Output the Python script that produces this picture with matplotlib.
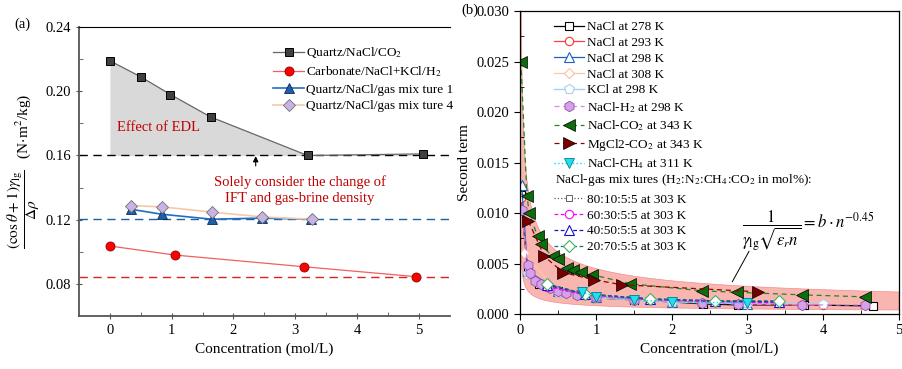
import numpy as np
import matplotlib.pyplot as plt

plt.rcParams['font.family'] = ['Liberation Serif', 'DejaVu Serif']
plt.rcParams['mathtext.fontset'] = 'stix'

# ---- panel (a) data
conc_co2 = [0, 0.5, 0.98, 1.63, 3.2, 5.07]
val_co2 = [0.219, 0.209, 0.198, 0.184, 0.160, 0.161]
conc_h2 = [0, 1.05, 3.14, 4.96]
val_h2 = [0.1036, 0.098, 0.0907, 0.0845]
conc_mix1 = [0.34, 0.84, 1.65, 2.46, 3.26]
val_mix1 = [0.1265, 0.1234, 0.1203, 0.121, 0.1203]
conc_mix4 = [0.34, 0.84, 1.66, 2.47, 3.27]
val_mix4 = [0.1288, 0.128, 0.1247, 0.1217, 0.1203]
ref_co2 = 0.160
ref_mix = 0.1203
ref_h2 = 0.0845

# ---- panel (b) data
n278 = [0.01, 0.1, 0.25, 0.5, 1.0, 1.5, 2.0, 2.41, 2.87, 3.75, 4.65]
s278 = [0.0118, 0.0042, 0.0030, 0.0023, 0.0016, 0.0014, 0.0012, 0.0010, 0.0009, 0.0009, 0.0008]
n293 = [0.01, 0.1, 0.5, 1.0, 2.0, 3.0, 4.0]
s293 = [0.0115, 0.0040, 0.0022, 0.0016, 0.0012, 0.0010, 0.0009]
n298 = [0.02, 0.1, 0.5, 1.0, 2.0, 3.0]
s298 = [0.0128, 0.0043, 0.0023, 0.0017, 0.0012, 0.0010]
n308 = [0.05, 0.5, 1.0, 2.0, 3.0]
s308 = [0.0060, 0.0022, 0.0016, 0.0012, 0.0010]
n_kcl = [0.1, 0.5, 1.0, 1.5, 2.0, 3.0, 4.0]
s_kcl = [0.0040, 0.0022, 0.0017, 0.0014, 0.0012, 0.0011, 0.0010]
n_h2 = [0.02, 0.1, 0.13, 0.2, 0.28, 0.4, 0.5, 0.6, 0.75, 1.0, 1.5, 2.4, 2.87, 3.72, 4.55]
s_h2 = [0.0103, 0.0049, 0.0041, 0.0033, 0.0030, 0.0026, 0.0023, 0.0021, 0.0019, 0.0017,
        0.0014, 0.0011, 0.0010, 0.0009, 0.0009]
n_co2 = [0.01, 0.09, 0.12, 0.23, 0.27, 0.43, 0.50, 0.62, 0.70, 0.80, 0.95, 1.45, 2.40, 2.86, 3.72, 4.55]
s_co2 = [0.025, 0.0117, 0.0100, 0.0077, 0.0069, 0.0057, 0.0054, 0.0046, 0.0044, 0.0042,
         0.0039, 0.0030, 0.0023, 0.00215, 0.0019, 0.0017]
n_mg = [0.11, 0.32, 0.57, 0.97, 1.34, 3.14]
s_mg = [0.0092, 0.0057, 0.0041, 0.0034, 0.0029, 0.0022]
n_ch4 = [0.81, 1.0, 1.5, 2.0, 3.0]
s_ch4 = [0.0022, 0.0017, 0.0014, 0.0012, 0.0011]
n_mixes = [0.35, 0.85, 1.72, 2.57, 3.42]
s_80 = [0.0028, 0.0019, 0.0014, 0.0012, 0.0012]
s_60 = [0.0027, 0.0019, 0.0014, 0.0012, 0.0011]
s_40 = [0.0029, 0.0020, 0.0015, 0.0013, 0.0012]
s_20 = [0.0030, 0.0020, 0.0015, 0.0013, 0.0013]
# band of the fitted curve b*n^-0.45
b_low, b_high, expo = 0.00082, 0.0045, -0.45

fig = plt.figure(figsize=(9.03, 3.69), dpi=100)
ax1 = fig.add_axes([0.0875, 0.1436, 0.4105, 0.783])
ax2 = fig.add_axes([0.576, 0.149, 0.4196, 0.821])

# %% panel a
ax1.fill_between(conc_co2, val_co2, ref_co2, color='#d9d9d9', lw=0)
ax1.axhline(ref_co2, color='k', ls=(0, (6, 4)), lw=1)
ax1.axhline(ref_mix, color='#1f5fa8', ls=(0, (6, 4)), lw=1)
ax1.axhline(ref_h2, color='#e02020', ls=(0, (6, 4)), lw=1)
ax1.plot(conc_co2, val_co2, color='#666666', lw=0.9, marker='s', ms=6,
         mfc='#404040', mec='k', mew=0.7, label='Quartz/NaCl/CO$_2$')
ax1.plot(conc_h2, val_h2, color='#f06060', lw=0.9, marker='o', ms=6.5,
         mfc='#ff0000', mec='#900000', mew=0.6, label='Carbonate/NaCl+KCl/H$_2$')
ax1.plot(conc_mix1, val_mix1, color='#1f6fc0', lw=1.2, marker='^', ms=7,
         mfc='#1f5fa8', mec='#0a2a60', mew=0.6, label='Quartz/NaCl/gas mix ture 1')
ax1.plot(conc_mix4, val_mix4, color='#f5c8a8', lw=1.2, marker='D', ms=6.5,
         mfc='#c8b4e4', mec='#707070', mew=0.6, label='Quartz/NaCl/gas mix ture 4')
ax1.set_xlim(-0.5, 5.5)
ax1.set_ylim(0.06, 0.24)
ax1.set_xticks(range(6))
ax1.set_xticks(np.arange(0.5, 5.5, 1), minor=True)
ax1.set_yticks([0.08, 0.12, 0.16, 0.20, 0.24])
ax1.set_yticks([0.10, 0.14, 0.18, 0.22], minor=True)
ax1.set_yticklabels(['0.08', '0.12', '0.16', '0.20', '0.24'])
ax1.tick_params(which='major', direction='inout', length=5, labelsize=10.5, color='#555555')
ax1.tick_params(which='minor', direction='in', length=3, color='#555555')
ax1.spines['right'].set_visible(False)
ax1.spines['top'].set_linewidth(0.8)
for s in ['left', 'bottom']:
    ax1.spines[s].set_color('#555555')
    ax1.spines[s].set_linewidth(1.3)
ax1.set_xlabel('Concentration (mol/L)', fontsize=11)
ax1.set_ylabel(r'$\dfrac{(\cos\theta+1)\gamma_{\mathrm{lg}}}{\Delta\rho}$   (N$\cdot$m$^2$/kg)',
               fontsize=11, labelpad=2)
ax1.text(0.11, 0.1775, 'Effect of EDL', color='#c00000', fontsize=10.5, va='center')
ax1.text(3.07, 0.1383, 'Solely consider the change of\nIFT and gas-brine density',
         color='#c00000', fontsize=10.5, ha='center', va='center', linespacing=1.25)
ax1.annotate('', xy=(2.36, 0.1596), xytext=(2.36, 0.1535),
             arrowprops=dict(arrowstyle='-|>', color='k', lw=0.8, mutation_scale=8,
                             shrinkA=0, shrinkB=0))
ax1.legend(loc='upper left', bbox_to_anchor=(0.51, 0.955), frameon=False, fontsize=9.5,
           handlelength=2.3, handletextpad=0.2, labelspacing=0.32, borderaxespad=0)
fig.text(0.016, 0.925, '(a)', fontsize=10.5)

# %% panel b
nn = np.linspace(0.005, 5, 600)
ax2.fill_between(nn, b_low * nn ** expo, b_high * nn ** expo, facecolor='#f8aaa4',
                 edgecolor='#f08080', lw=0.5, alpha=0.85, zorder=0)

h1, = ax2.plot(n278, s278, color='k', lw=0.9, marker='s', ms=6, mfc='white', mec='k', mew=0.8)
h2, = ax2.plot(n293, s293, color='#ff4040', lw=0.9, marker='o', ms=6, mfc='white', mec='#ff3030', mew=0.8)
h3, = ax2.plot(n298, s298, color='#1f5fc0', lw=0.9, marker='^', ms=6.5, mfc='white', mec='#1f5fc0', mew=0.8)
h4, = ax2.plot(n308, s308, color='#f8c8a8', lw=0.9, marker='D', ms=5.5, mfc='white', mec='#f8c0a0', mew=0.8)
h5, = ax2.plot(n_kcl, s_kcl, color='#a8d0f0', lw=1.0, marker='p', ms=7, mfc='white', mec='#a8d0f0', mew=0.8)
h6, = ax2.plot(n_h2, s_h2, color='#e080f0', lw=0.9, ls=(0, (4, 3)), marker='h', ms=7.5,
               mfc='#d8a0e8', mec='#9050b0', mew=0.6)
h10, = ax2.plot(n_mixes, s_80, color='#606060', lw=0.9, ls=':', marker='s', ms=4.5,
                mfc='white', mec='#606060', mew=0.7)
h11, = ax2.plot(n_mixes, s_60, color='#ff00ff', lw=0.9, ls=(0, (3, 2)), marker='o', ms=6,
                mfc='white', mec='#ff00ff', mew=0.8)
h12, = ax2.plot(n_mixes, s_40, color='#1010d0', lw=0.9, ls=(0, (3, 2)), marker='^', ms=6.5,
                mfc='white', mec='#1010d0', mew=0.8)
h13, = ax2.plot(n_mixes, s_20, color='#107070', lw=0.9, ls=(0, (3, 2)), marker='D', ms=6,
                mfc='white', mec='#40b060', mew=0.8)
h9, = ax2.plot(n_ch4, s_ch4, color='#00e0f0', lw=1.0, ls=':', marker='v', ms=7,
               mfc='#20e0f0', mec='#008090', mew=0.6)
h7, = ax2.plot(n_co2, s_co2, color='#1a8a1a', lw=0.9, ls=(0, (4, 3)), marker='<', ms=8.5,
               mfc='#0b6e0b', mec='k', mew=0.5)
h8, = ax2.plot(n_mg, s_mg, color='#8b0000', lw=0.9, ls=(0, (4, 3)), marker='>', ms=8.5,
               mfc='#7a0000', mec='k', mew=0.5)

ax2.set_xlim(0, 5)
ax2.set_ylim(0, 0.03)
ax2.set_xticks(range(6))
ax2.set_xticks(np.arange(0.5, 5, 1), minor=True)
ax2.set_yticks(np.arange(0, 0.0301, 0.005))
ax2.set_yticks(np.arange(0.0025, 0.03, 0.005), minor=True)
ax2.set_yticklabels(['0.000', '0.005', '0.010', '0.015', '0.020', '0.025', '0.030'])
ax2.tick_params(which='major', direction='out', length=4, labelsize=10.5)
ax2.tick_params(which='minor', direction='in', length=3)
for s in ax2.spines.values():
    s.set_linewidth(0.9)
ax2.set_xlabel('Concentration (mol/L)', fontsize=11)
ax2.set_ylabel('Second term', fontsize=11, labelpad=4)

leg1 = ax2.legend([h1, h2, h3, h4, h5, h6, h7, h8, h9],
                  ['NaCl at 278 K', 'NaCl at 293 K', 'NaCl at 298 K', 'NaCl at 308 K',
                   'KCl at 298 K', 'NaCl-H$_2$ at 298 K', 'NaCl-CO$_2$ at 343 K',
                   'MgCl2-CO$_2$ at 343 K', 'NaCl-CH$_4$ at 311 K'],
                  loc='upper left', bbox_to_anchor=(0.075, 0.985), frameon=False, fontsize=9.5,
                  handlelength=2.3, handletextpad=0.2, labelspacing=0.27, borderaxespad=0)
ax2.add_artist(leg1)
ax2.text(0.092, 0.442, 'NaCl-gas mix tures (H$_2$:N$_2$:CH$_4$:CO$_2$ in mol%):',
         transform=ax2.transAxes, fontsize=9.5, va='center')
ax2.legend([h10, h11, h12, h13],
           ['80:10:5:5 at 303 K', '60:30:5:5 at 303 K', '40:50:5:5 at 303 K', '20:70:5:5 at 303 K'],
           loc='upper left', bbox_to_anchor=(0.075, 0.415), frameon=False, fontsize=9.5,
           handlelength=2.3, handletextpad=0.2, labelspacing=0.27, borderaxespad=0)

ax2.plot([2.80, 3.02], [0.0032, 0.0062], color='k', lw=0.7)
ax2.text(3.8, 0.0083, r'$\dfrac{1}{\gamma_{\mathrm{lg}}\sqrt{\varepsilon_r n}} = b\cdot n^{-0.45}$',
         fontsize=12, ha='center', va='center')
fig.text(0.511, 0.962, '(b)', fontsize=10.5)

fig.savefig('out.png', dpi=100)
